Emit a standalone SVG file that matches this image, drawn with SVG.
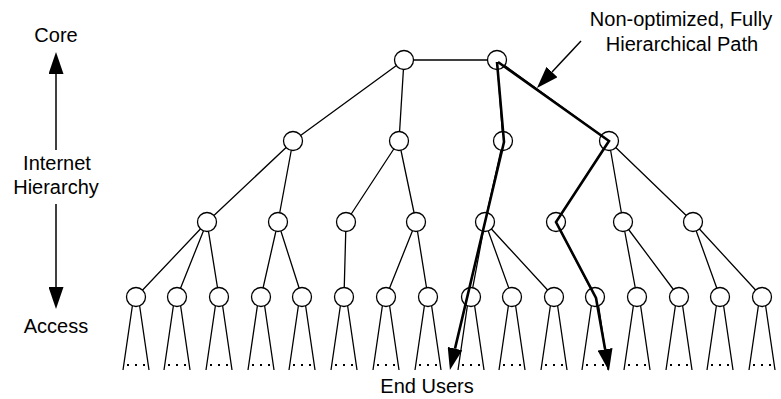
<svg xmlns="http://www.w3.org/2000/svg" width="781" height="399" viewBox="0 0 781 399">
<style>
.e{stroke:#000;stroke-width:1.3;fill:none}
.n{fill:#fff;stroke:#000;stroke-width:1.3}
.t{stroke:#000;stroke-width:1.3;fill:none}
.d{stroke:#000;stroke-width:2;stroke-dasharray:2 6;fill:none}
.p{stroke:#000;stroke-width:2.6;fill:none;stroke-linejoin:miter}
.a{stroke:#000;stroke-width:1.5;fill:none}
text{font-family:"Liberation Sans",Arial,sans-serif;font-size:20px;fill:#000;text-anchor:middle}
</style>
<defs>
<marker id="ah" viewBox="0 0 22 15" refX="0" refY="7.5" markerWidth="22" markerHeight="15" markerUnits="userSpaceOnUse" orient="auto">
<path d="M0,0 L22,7.5 L0,15 z" fill="#000"/>
</marker>
</defs>

<g id="connectors">
<path class="e" d="M404,60 L497,60 M404,60 L293,141 M404,60 L399,141 M497,60 L503,141 M497,60 L609,141
M293,141 L207,222 M293,141 L278,222 M399,141 L346,222 M399,141 L416,222 M503,141 L485,222 M609,141 L556,222 M609,141 L623,222 M609,141 L693,222
M207,222 L136,297 M207,222 L177,297 M207,222 L219,297
M278,222 L261,297 M278,222 L302,297
M346,222 L344,297
M416,222 L386,297 M416,222 L428,297
M485,222 L471,297 M485,222 L512,297 M485,222 L554,297
M556,222 L595,297
M623,222 L637,297 M623,222 L679,297
M693,222 L720,297 M693,222 L762,297"/>
</g>

<g id="leaves-fans">
<path class="t" d="M123,370 L132.5,305 M139.5,305 L149,370
M164,370 L173.5,305 M180.5,305 L190,370
M206,370 L215.5,305 M222.5,305 L232,370
M248,370 L257.5,305 M264.5,305 L274,370
M289,370 L298.5,305 M305.5,305 L315,370
M331,370 L340.5,305 M347.5,305 L357,370
M373,370 L382.5,305 M389.5,305 L399,370
M415,370 L424.5,305 M431.5,305 L441,370
M458,370 L467.5,305 M474.5,305 L484,370
M499,370 L508.5,305 M515.5,305 L525,370
M541,370 L550.5,305 M557.5,305 L567,370
M582,370 L591.5,305 M598.5,305 L608,370
M624,370 L633.5,305 M640.5,305 L650,370
M666,370 L675.5,305 M682.5,305 L692,370
M707,370 L716.5,305 M723.5,305 L733,370
M749,370 L758.5,305 M765.5,305 L775,370"/>
<path class="d" d="M127,365 h18 M168,365 h18 M210,365 h18 M252,365 h18 M293,365 h18 M335,365 h18 M377,365 h18 M419,365 h18 M462,365 h18 M503,365 h18 M545,365 h18 M586,365 h18 M628,365 h18 M670,365 h18 M711,365 h18 M753,365 h18"/>
</g>

<g id="core-1"><circle class="n" cx="404" cy="60" r="9.5"/></g>
<g id="core-2"><circle class="n" cx="497" cy="60" r="9.5"/></g>
<g id="l1-1"><circle class="n" cx="293" cy="141" r="9.5"/></g>
<g id="l1-2"><circle class="n" cx="399" cy="141" r="9.5"/></g>
<g id="l1-3"><circle class="n" cx="503" cy="141" r="9.5"/></g>
<g id="l1-4"><circle class="n" cx="609" cy="141" r="9.5"/></g>
<g id="l2-1"><circle class="n" cx="207" cy="222" r="9.5"/></g>
<g id="l2-2"><circle class="n" cx="278" cy="222" r="9.5"/></g>
<g id="l2-3"><circle class="n" cx="346" cy="222" r="9.5"/></g>
<g id="l2-4"><circle class="n" cx="416" cy="222" r="9.5"/></g>
<g id="l2-5"><circle class="n" cx="485" cy="222" r="9.5"/></g>
<g id="l2-6"><circle class="n" cx="556" cy="222" r="9.5"/></g>
<g id="l2-7"><circle class="n" cx="623" cy="222" r="9.5"/></g>
<g id="l2-8"><circle class="n" cx="693" cy="222" r="9.5"/></g>
<g id="l3-1"><circle class="n" cx="136" cy="297" r="9.5"/></g>
<g id="l3-2"><circle class="n" cx="177" cy="297" r="9.5"/></g>
<g id="l3-3"><circle class="n" cx="219" cy="297" r="9.5"/></g>
<g id="l3-4"><circle class="n" cx="261" cy="297" r="9.5"/></g>
<g id="l3-5"><circle class="n" cx="302" cy="297" r="9.5"/></g>
<g id="l3-6"><circle class="n" cx="344" cy="297" r="9.5"/></g>
<g id="l3-7"><circle class="n" cx="386" cy="297" r="9.5"/></g>
<g id="l3-8"><circle class="n" cx="428" cy="297" r="9.5"/></g>
<g id="l3-9"><circle class="n" cx="471" cy="297" r="9.5"/></g>
<g id="l3-10"><circle class="n" cx="512" cy="297" r="9.5"/></g>
<g id="l3-11"><circle class="n" cx="554" cy="297" r="9.5"/></g>
<g id="l3-12"><circle class="n" cx="595" cy="297" r="9.5"/></g>
<g id="l3-13"><circle class="n" cx="637" cy="297" r="9.5"/></g>
<g id="l3-14"><circle class="n" cx="679" cy="297" r="9.5"/></g>
<g id="l3-15"><circle class="n" cx="720" cy="297" r="9.5"/></g>
<g id="l3-16"><circle class="n" cx="762" cy="297" r="9.5"/></g>

<g id="paths">
<path class="p" d="M497,62 L504,142 L455,348.6" marker-end="url(#ah)"/>
<path class="p" d="M498,62 L609,141 L556,222 L596,298 L605.1,349.3" marker-end="url(#ah)"/>
<path class="a" d="M581,41 L552,72" marker-end="url(#ah)"/>
</g>

<g id="hierarchy-axis">
<path class="a" d="M56,150 L56,74" marker-end="url(#ah)"/>
<path class="a" d="M56,204 L56,287" marker-end="url(#ah)"/>
</g>

<g id="labels">
<text x="56" y="42">Core</text>
<text x="57" y="170">Internet</text>
<text x="56" y="194">Hierarchy</text>
<text x="56" y="333">Access</text>
<text x="427" y="393">End Users</text>
<text x="681" y="26">Non-optimized, Fully</text>
<text x="682" y="51">Hierarchical Path</text>
</g>
</svg>
